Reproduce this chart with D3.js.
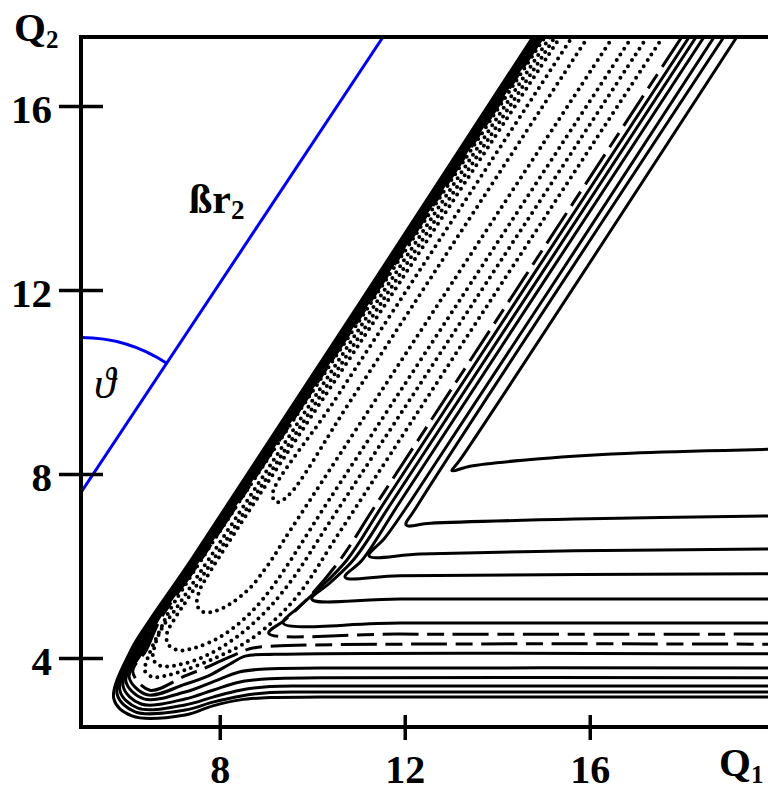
<!DOCTYPE html>
<html>
<head>
<meta charset="utf-8">
<script src="https://cdn.jsdelivr.net/npm/d3@7"></script>
<style>
  html, body { margin: 0; padding: 0; background: #fff; overflow: hidden; }
  svg { display: block; }
  text { font-family: "Liberation Serif", "Times New Roman", serif; fill: #000; }
</style>
</head>
<body>
<div id="chart"></div>
<script>
// axis ranges and ticks (Q1 across, Q2 up)
const xDomain = [5, 20]
const yDomain = [2.5, 17.5]
const xTicks = [8, 12, 16]
const yTicks = [4, 8, 12, 16]

// solid contours of the right wall: down the channel, corner, out along the product valley
const solidV = [
  [[19.18, 17.5], [13.19, 8.30], [13.02, 8.07], [13.41, 8.17], [14.92, 8.33], [17.09, 8.46], [20, 8.54]],
  [[18.90, 17.5], [12.24, 7.26], [12.03, 6.89], [12.55, 6.93], [15.68, 7.02], [20, 7.09]],
  [[18.69, 17.5], [12.14, 7.43], [11.57, 6.61], [11.23, 6.22], [12.33, 6.26], [15.68, 6.33], [20, 6.37]],
  [[18.47, 17.5], [11.92, 7.43], [11.08, 6.13], [10.71, 5.76], [11.90, 5.79], [20, 5.83]],
  [[18.30, 17.5], [11.75, 7.43], [10.92, 6.17], [10.38, 5.63], [9.99, 5.28], [11.90, 5.28], [20, 5.28]],
  [[18.15, 17.5], [11.59, 7.43], [10.75, 6.13], [10.12, 5.48], [9.69, 5.09], [9.37, 4.76], [11.90, 4.76], [20, 4.76]]
]
// dashed contour, inner branch
const dashedV = [[17.99, 17.5], [11.44, 7.43], [10.60, 6.13], [9.91, 5.30], [9.41, 4.83], [9.06, 4.54], [11.90, 4.52], [20, 4.52]]

// dashed contour, outer branch (up the left wall, round the hook, out to the right)
const dashedWall = [[14.99, 17.5], [7.59, 6.13], [6.71, 4.83], [6.41, 4.17], [6.12, 3.70], [6.49, 3.30], [7.25, 3.61], [7.79, 3.83], [8.26, 4.04], [8.65, 4.20], [9.19, 4.26], [20, 4.30]]

// solid contours of the left wall / lower product wall
const solidWall = [
  [[14.95, 17.5], [7.55, 6.13], [6.66, 4.83], [6.35, 4.17], [6.04, 3.59], [6.43, 3.20], [7.25, 3.43], [7.79, 3.63], [8.22, 3.87], [8.55, 4.04], [9.19, 4.08], [20, 4.09]],
  [[14.91, 17.5], [7.52, 6.13], [6.63, 4.83], [6.30, 4.17], [5.97, 3.50], [6.36, 3.11], [7.25, 3.26], [7.85, 3.48], [8.44, 3.70], [8.98, 3.76], [10.17, 3.78], [20, 3.78]],
  [[14.88, 17.5], [7.49, 6.13], [6.60, 4.83], [6.24, 4.17], [5.91, 3.39], [6.30, 3.00], [7.25, 3.11], [7.85, 3.30], [8.44, 3.48], [9.09, 3.55], [10.17, 3.57], [20, 3.57]],
  [[14.85, 17.5], [7.45, 6.13], [6.57, 4.83], [6.19, 4.17], [5.84, 3.30], [6.23, 2.91], [7.25, 2.98], [7.85, 3.15], [8.44, 3.30], [9.09, 3.38], [10.17, 3.39], [20, 3.39]],
  [[14.82, 17.5], [7.42, 6.13], [6.54, 4.83], [6.14, 4.17], [5.78, 3.22], [6.17, 2.83], [7.25, 2.87], [7.85, 3.04], [8.44, 3.17], [9.09, 3.25], [10.17, 3.26], [20, 3.26]],
  [[14.77, 17.5], [7.38, 6.13], [6.49, 4.83], [6.08, 4.17], [5.71, 3.11], [6.10, 2.74], [7.25, 2.76], [7.85, 2.96], [8.44, 3.09], [9.09, 3.14], [10.17, 3.15], [20, 3.15]]
]

// dotted contours in the reactant well (outermost first)
const wellLoops = [
  [[17.58, 17.5], [13.86, 11.78], [10.62, 6.78], [9.74, 5.43], [9.19, 4.83], [8.55, 4.33], [7.90, 4.00], [7.25, 3.74], [6.82, 3.61], [6.54, 3.59], [6.38, 3.72], [6.43, 3.96], [6.54, 4.24], [6.73, 4.65], [6.92, 5.04], [11.31, 11.78], [15.03, 17.5]],
  [[17.24, 17.5], [13.52, 11.78], [10.38, 6.96], [9.56, 5.70], [8.98, 5.00], [8.33, 4.43], [7.68, 4.04], [7.10, 3.85], [6.71, 3.83], [6.56, 3.98], [6.60, 4.28], [6.75, 4.65], [7.03, 5.04], [11.42, 11.78], [15.14, 17.5]],
  [[16.91, 17.5], [13.19, 11.78], [10.36, 7.43], [9.09, 5.48], [8.55, 4.87], [8.01, 4.46], [7.46, 4.22], [7.10, 4.17], [6.88, 4.30], [6.86, 4.54], [7.01, 4.83], [7.29, 5.26], [11.53, 11.78], [15.25, 17.5]],
  [[16.50, 17.5], [12.78, 11.78], [9.56, 6.83], [9.04, 6.02], [8.65, 5.52], [8.26, 5.20], [7.90, 5.02], [7.64, 5.00], [7.51, 5.15], [7.55, 5.43], [7.72, 5.76], [11.64, 11.78], [15.36, 17.5]],
  [[15.96, 17.5], [10.84, 9.61], [9.49, 7.54], [9.24, 7.39], [9.14, 7.54], [10.49, 9.61], [15.62, 17.5]]
]

// blue construction line beta*r2 and the angle theta against the Q2 axis
const betaLine = [[5, 7.6], [11.53, 17.5]]
const arcRadiusQ2 = 3.37

const svgW = 768
const svgH = 795

const x = d3.scaleLinear().domain(xDomain).range([81, 774.75])
const y = d3.scaleLinear().domain(yDomain).range([727, 37])

const svg = d3.select('#chart')
  .append('svg')
  .attr('width', svgW)
  .attr('height', svgH)

svg.append('clipPath')
  .attr('id', 'plot-clip')
  .append('rect')
  .attr('x', x(xDomain[0]))
  .attr('y', y(yDomain[1]))
  .attr('width', x(xDomain[1]) - x(xDomain[0]))
  .attr('height', y(yDomain[0]) - y(yDomain[1]))

const lnFunc = d3.line()
  .x(d => x(d[0]))
  .y(d => y(d[1]))
  .curve(d3.curveCatmullRom.alpha(0.5))

const plot = svg.append('g').attr('clip-path', 'url(#plot-clip)')

// dotted well contours
plot.append('g')
  .selectAll('path')
  .data(wellLoops)
  .join('path')
  .attr('d', lnFunc)
  .attr('fill', 'none')
  .attr('stroke', '#000')
  .attr('stroke-width', 4)
  .attr('stroke-linecap', 'round')
  .attr('stroke-dasharray', '0 7')

// solid contours
plot.append('g')
  .selectAll('path')
  .data(solidV.concat(solidWall))
  .join('path')
  .attr('d', lnFunc)
  .attr('fill', 'none')
  .attr('stroke', '#000')
  .attr('stroke-width', 3)
  .attr('stroke-linejoin', 'round')

// dashed contour (two branches)
plot.append('g')
  .selectAll('path')
  .data([dashedV, dashedWall])
  .join('path')
  .attr('d', lnFunc)
  .attr('fill', 'none')
  .attr('stroke', '#000')
  .attr('stroke-width', 3)
  .attr('stroke-dasharray', '36 8.6 17 8.6')

// blue line and angle arc
plot.append('path')
  .datum(betaLine)
  .attr('d', d3.line().x(d => x(d[0])).y(d => y(d[1])))
  .attr('fill', 'none')
  .attr('stroke', '#0000ee')
  .attr('stroke-width', 3)

const cx = x(betaLine[0][0])
const cy = y(betaLine[0][1])
const r = cy - y(betaLine[0][1] + arcRadiusQ2)
const ang = Math.atan2(y(betaLine[1][1]) - cy, x(betaLine[1][0]) - cx)
const arcPath = d3.path()
arcPath.arc(cx, cy, r, -Math.PI / 2, ang, false)
plot.append('path')
  .attr('d', arcPath.toString())
  .attr('fill', 'none')
  .attr('stroke', '#0000ee')
  .attr('stroke-width', 3)

// frame
svg.append('rect')
  .attr('x', x(xDomain[0]))
  .attr('y', y(yDomain[1]))
  .attr('width', x(xDomain[1]) - x(xDomain[0]))
  .attr('height', y(yDomain[0]) - y(yDomain[1]))
  .attr('fill', 'none')
  .attr('stroke', '#000')
  .attr('stroke-width', 4)

// y axis ticks cross the frame
const yAxis = svg.append('g')
  .attr('transform', 'translate(' + x(xDomain[0]) + ',0)')
  .call(d3.axisLeft(y).tickValues(yTicks).tickSizeInner(22).tickSizeOuter(0).tickPadding(7))
yAxis.select('.domain').remove()
yAxis.selectAll('.tick line').attr('x1', 22).attr('stroke', '#000').attr('stroke-width', 3.5)
yAxis.selectAll('.tick text')
  .attr('dy', '0.4em')
  .style('font-family', '"Liberation Serif", serif')
  .style('font-weight', 'bold')
  .style('font-size', '41px')

const xAxis = svg.append('g')
  .attr('transform', 'translate(0,' + y(yDomain[0]) + ')')
  .call(d3.axisBottom(x).tickValues(xTicks).tickSizeInner(13).tickSizeOuter(0).tickPadding(15))
xAxis.select('.domain').remove()
xAxis.selectAll('.tick line').attr('y1', -12).attr('stroke', '#000').attr('stroke-width', 3.5)
xAxis.selectAll('.tick text')
  .style('font-family', '"Liberation Serif", serif')
  .style('font-weight', 'bold')
  .style('font-size', '40px')

// axis titles
const q2 = svg.append('text')
  .attr('x', 14)
  .attr('y', 41)
  .style('font-weight', 'bold')
  .style('font-size', '41px')
q2.append('tspan').text('Q')
q2.append('tspan').attr('dy', 7).style('font-size', '25px').text('2')

const q1 = svg.append('text')
  .attr('x', 719)
  .attr('y', 776)
  .style('font-weight', 'bold')
  .style('font-size', '41px')
q1.append('tspan').text('Q')
q1.append('tspan').attr('dy', 7).style('font-size', '25px').text('1')

// annotations
const br = svg.append('text')
  .attr('x', 189)
  .attr('y', 213)
  .style('font-weight', 'bold')
  .style('font-size', '42px')
br.append('tspan').text('ßr')
br.append('tspan').attr('dy', 6).style('font-size', '27px').text('2')

svg.append('text')
  .attr('x', 94)
  .attr('y', 398)
  .style('font-style', 'italic')
  .style('font-size', '44px')
  .text('ϑ')
</script>
</body>
</html>
